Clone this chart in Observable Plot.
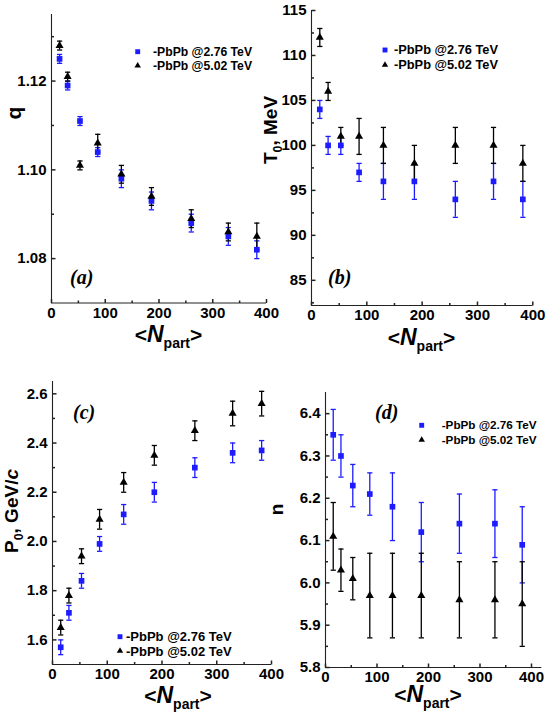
<!DOCTYPE html>
<html><head><meta charset="utf-8">
<script src="https://cdn.jsdelivr.net/npm/d3@7"></script>
<script src="https://cdn.jsdelivr.net/npm/@observablehq/plot@0.6"></script>
<style>
body{margin:0;background:#fff;}
#fig{position:relative;width:550px;height:718px;overflow:hidden;background:#fff;}
#fig svg{position:absolute;}
</style></head><body><div id="fig"></div>
<script>
// ---------- data ----------
const npart = [15, 30, 53, 86, 130, 186, 260, 329, 382];
const seriesNames = ["-PbPb @2.76 TeV", "-PbPb @5.02 TeV"];

const q276 = [1.125, 1.119, 1.111, 1.104, 1.098, 1.093, 1.088, 1.085, 1.082];
const q276Err = [0.001, 0.001, 0.001, 0.001, 0.002, 0.002, 0.002, 0.002, 0.002];
const q502 = [1.128, 1.121, 1.101, 1.106, 1.099, 1.094, 1.089, 1.086, 1.085];
const q502Err = [0.001, 0.001, 0.001, 0.002, 0.002, 0.002, 0.002, 0.002, 0.003];

const T276 = [104, 100, 100, 97, 96, 96, 94, 96, 94];
const T276Err = [1, 1, 1, 1, 2, 2, 2, 2, 2];
const T502 = [112, 106, 101, 101, 100, 98, 100, 100, 98];
const T502Err = [1, 1, 1, 2, 2, 2, 2, 2, 2];

const P276 = [1.57, 1.71, 1.84, 1.99, 2.11, 2.20, 2.30, 2.36, 2.37];
const P276Err = [0.03, 0.03, 0.03, 0.03, 0.04, 0.04, 0.04, 0.04, 0.04];
const P502 = [1.65, 1.78, 1.94, 2.09, 2.24, 2.35, 2.45, 2.52, 2.56];
const P502Err = [0.03, 0.03, 0.03, 0.04, 0.04, 0.04, 0.04, 0.05, 0.05];

const n276 = [6.35, 6.30, 6.23, 6.21, 6.18, 6.12, 6.14, 6.14, 6.09];
const n276Err = [0.06, 0.05, 0.05, 0.05, 0.08, 0.07, 0.07, 0.08, 0.09];
const n502 = [6.11, 6.03, 6.01, 5.97, 5.97, 5.97, 5.96, 5.96, 5.95];
const n502Err = [0.08, 0.05, 0.05, 0.10, 0.10, 0.10, 0.09, 0.09, 0.10];

const xMajor = [0, 100, 200, 300, 400];
const xMinor = [50, 150, 250, 350];
const qMajor = [1.08, 1.10, 1.12];
const qMinor = [1.09, 1.11, 1.13];
const TMajor = [85, 90, 95, 100, 105, 110, 115];
const TMinor = [82.5, 87.5, 92.5, 97.5, 102.5, 107.5, 112.5];
const PMajor = [1.6, 1.8, 2.0, 2.2, 2.4, 2.6];
const PMinor = [1.7, 1.9, 2.1, 2.3, 2.5];
const nMajor = [5.8, 5.9, 6.0, 6.1, 6.2, 6.3, 6.4];
const nMinor = [5.85, 5.95, 6.05, 6.15, 6.25, 6.35];

// ---------- style ----------
const BLUE = "#1c1cff";
const AXIS = "#222";
const FONT = "'Liberation Sans', Arial, sans-serif";

const capSym = {draw(ctx) { ctx.moveTo(-2.6, 0); ctx.lineTo(2.6, 0); }};
const tickUpMajor = {draw(ctx) { ctx.moveTo(0, 0); ctx.lineTo(0, -4); }};
const tickUpMinor = {draw(ctx) { ctx.moveTo(0, 0); ctx.lineTo(0, -2.5); }};
const tickRightMajor = {draw(ctx) { ctx.moveTo(0, 0); ctx.lineTo(4, 0); }};
const tickRightMinor = {draw(ctx) { ctx.moveTo(0, 0); ctx.lineTo(2.5, 0); }};

const fig = document.getElementById("fig");

function panel(cfg) {
  const d1 = npart.map((x, i) => ({x, y: cfg.s1[i], e: cfg.e1[i]}));
  const d2 = npart.map((x, i) => ({x, y: cfg.s2[i], e: cfg.e2[i]}));
  const x0 = cfg.xDomain[0], y0 = cfg.yDomain[0];
  const errMarks = (d, color) => [
    Plot.ruleX(d, {x: "x", y1: v => v.y - v.e, y2: v => v.y + v.e, stroke: color, strokeWidth: 1.3}),
    Plot.dot(d, {x: "x", y: v => v.y - v.e, symbol: capSym, r: 3, stroke: color, fill: "none", strokeWidth: 1.3}),
    Plot.dot(d, {x: "x", y: v => v.y + v.e, symbol: capSym, r: 3, stroke: color, fill: "none", strokeWidth: 1.3})
  ];
  const svg = Plot.plot({
    width: cfg.width, height: cfg.height,
    marginTop: cfg.mt, marginRight: cfg.mr, marginBottom: cfg.mb, marginLeft: cfg.ml,
    x: {domain: cfg.xDomain, axis: null},
    y: {domain: cfg.yDomain, axis: null},
    style: {background: "transparent", fontFamily: FONT, overflow: "visible"},
    marks: [
      Plot.ruleX([x0], {stroke: AXIS, strokeWidth: 1.1}),
      Plot.ruleY([y0], {stroke: AXIS, strokeWidth: 1.1}),
      Plot.dot(xMajor, {x: d => d, frameAnchor: "bottom", symbol: tickUpMajor, r: 3, stroke: AXIS, fill: "none"}),
      Plot.dot(xMinor, {x: d => d, frameAnchor: "bottom", symbol: tickUpMinor, r: 3, stroke: AXIS, fill: "none"}),
      Plot.text(xMajor, {x: d => d, frameAnchor: "bottom", text: d => String(d), dy: 4, lineAnchor: "top",
        fontSize: 15, fontWeight: "bold", fill: "black"}),
      Plot.dot(cfg.yMajor, {y: d => d, frameAnchor: "left", symbol: tickRightMajor, r: 3, stroke: AXIS, fill: "none"}),
      Plot.dot(cfg.yMinor, {y: d => d, frameAnchor: "left", symbol: tickRightMinor, r: 3, stroke: AXIS, fill: "none"}),
      Plot.text(cfg.yMajor, {y: d => d, frameAnchor: "left", text: cfg.yFmt, dx: -5, textAnchor: "end",
        lineAnchor: "middle", fontSize: 15, fontWeight: "bold", fill: "black"}),
      ...errMarks(d1, BLUE),
      ...errMarks(d2, "black"),
      Plot.dot(d1, {x: "x", y: "y", symbol: "square", r: 3.2, fill: BLUE, stroke: "none"}),
      Plot.dot(d2, {x: "x", y: "y", symbol: "triangle", r: 3.0, fill: "black", stroke: "none"})
    ]
  });
  svg.style.left = cfg.left + "px";
  svg.style.top = cfg.top + "px";
  fig.appendChild(svg);
}

panel({left: 0, top: 0, width: 275, height: 360, mt: 14, mr: 9, mb: 57.5, ml: 51,
  xDomain: [0, 400], yDomain: [1.07, 1.135], yMajor: qMajor, yMinor: qMinor, yFmt: d => d.toFixed(2),
  s1: q276, e1: q276Err, s2: q502, e2: q502Err});
panel({left: 275, top: 0, width: 275, height: 360, mt: 10, mr: 17.7, mb: 55, ml: 36,
  xDomain: [0, 400], yDomain: [82.2, 115], yMajor: TMajor, yMinor: TMinor, yFmt: d => String(d),
  s1: T276, e1: T276Err, s2: T502, e2: T502Err});
panel({left: 0, top: 360, width: 275, height: 358, mt: 21, mr: 4, mb: 54, ml: 52,
  xDomain: [0, 400], yDomain: [1.5, 2.65], yMajor: PMajor, yMinor: PMinor, yFmt: d => d.toFixed(1),
  s1: P276, e1: P276Err, s2: P502, e2: P502Err});
panel({left: 275, top: 360, width: 275, height: 358, mt: 32, mr: 8.7, mb: 51, ml: 50,
  xDomain: [0, 420], yDomain: [5.8, 6.45], yMajor: nMajor, yMinor: nMinor, yFmt: d => d.toFixed(1),
  s1: n276, e1: n276Err, s2: n502, e2: n502Err});

// ---------- overlay texts ----------
const ov = d3.select(fig).append("svg")
  .attr("width", 550).attr("height", 718)
  .style("left", "0px").style("top", "0px")
  .style("font-family", FONT).style("pointer-events", "none");

// x-axis titles <N_part>
[[168.5, 342], [421.5, 345], [178, 703], [428, 702]].forEach(([cx, by]) => {
  const t = ov.append("text").attr("x", cx).attr("y", by).attr("text-anchor", "middle")
    .attr("font-size", 21).attr("font-weight", "bold");
  t.append("tspan").text("<");
  t.append("tspan").attr("font-style", "italic").attr("font-size", 23).text("N");
  t.append("tspan").attr("font-size", 14).attr("dy", 6).text("part");
  t.append("tspan").attr("dy", -6).text(">");
});

// y-axis titles
function yTitle(x, y, size, parts) {
  const t = ov.append("text").attr("transform", `translate(${x},${y}) rotate(-90)`)
    .attr("text-anchor", "middle").attr("font-size", size).attr("font-weight", "bold");
  parts.forEach(p => {
    const s = t.append("tspan").text(p.t);
    if (p.sub) s.attr("font-size", size * 0.65).attr("dy", 5);
    if (p.up) s.attr("dy", -5);
    if (p.it) s.attr("font-style", "italic");
  });
}
yTitle(21, 113, 21, [{t: "q"}]);
yTitle(277, 130, 19, [{t: "T"}, {t: "0", sub: true}, {t: ", MeV", up: true}]);
yTitle(18, 511, 19, [{t: "P"}, {t: "0", sub: true}, {t: ", GeV/", up: true}, {t: "c", it: true}]);
yTitle(283, 509.5, 19, [{t: "n"}]);

// panel letters
[["(a)", 70, 284], ["(b)", 328, 284], ["(c)", 73, 419], ["(d)", 375, 419]].forEach(([s, x, y]) => {
  ov.append("text").attr("x", x).attr("y", y).attr("font-family", "'Liberation Serif', 'Times New Roman', serif")
    .attr("font-style", "italic").attr("font-weight", "bold").attr("font-size", 20).text(s);
});

// legends
const legends = [
  {mx: 137.7, y1: 51.7, y2: 65.7, tx: 153, fs: 12.2},
  {mx: 385, y1: 50, y2: 65, tx: 394, fs: 12.8},
  {mx: 120, y1: 636.7, y2: 651, tx: 126, fs: 13},
  {mx: 421.7, y1: 425.3, y2: 440, tx: 441.7, fs: 11.7}
];
legends.forEach(l => {
  ov.append("path").attr("transform", `translate(${l.mx},${l.y1})`)
    .attr("d", d3.symbol(d3.symbolSquare, 24)()).attr("fill", BLUE);
  ov.append("path").attr("transform", `translate(${l.mx},${l.y2})`)
    .attr("d", d3.symbol(d3.symbolTriangle, 18)()).attr("fill", "black");
  [[l.y1, seriesNames[0]], [l.y2, seriesNames[1]]].forEach(([y, s]) => {
    ov.append("text").attr("x", l.tx).attr("y", y).attr("dy", "0.35em")
      .attr("font-size", l.fs).attr("font-weight", "bold").text(s);
  });
});
</script>
</body></html>
